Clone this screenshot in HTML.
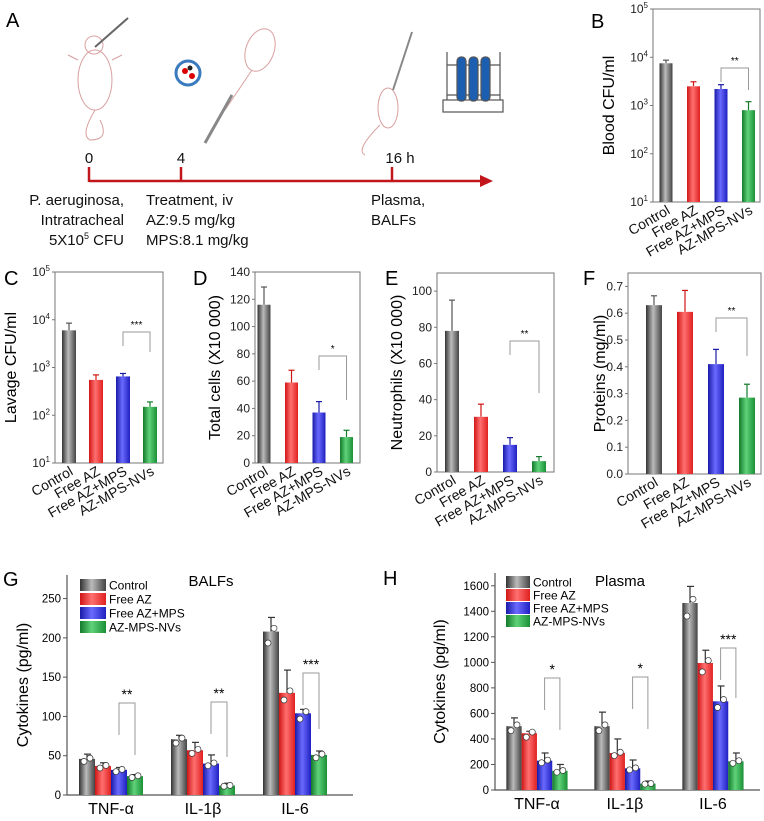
<!DOCTYPE html>
<html><head><meta charset="utf-8"><style>
body{margin:0;background:#fff}
svg{display:block;font-family:"Liberation Sans",sans-serif}
</style></head><body>
<svg id="fig" width="764" height="821" viewBox="0 0 764 821" xmlns="http://www.w3.org/2000/svg">
<defs>
<linearGradient id="g0" x1="0" x2="1"><stop offset="0" stop-color="#333"/><stop offset="0.45" stop-color="#bbb"/><stop offset="1" stop-color="#444"/></linearGradient>
<linearGradient id="g1" x1="0" x2="1"><stop offset="0" stop-color="#d01515"/><stop offset="0.45" stop-color="#ff7070"/><stop offset="1" stop-color="#e02020"/></linearGradient>
<linearGradient id="g2" x1="0" x2="1"><stop offset="0" stop-color="#1a1aa8"/><stop offset="0.45" stop-color="#6a6aff"/><stop offset="1" stop-color="#2020c0"/></linearGradient>
<linearGradient id="g3" x1="0" x2="1"><stop offset="0" stop-color="#137a2a"/><stop offset="0.45" stop-color="#5fd27a"/><stop offset="1" stop-color="#1a9035"/></linearGradient>
</defs>
<g>
<text x="6" y="27" font-size="20">A</text>
<g fill="none" stroke="#d9a0a0" stroke-width="1">
<ellipse cx="95" cy="80" rx="17" ry="30"/><circle cx="94" cy="45" r="9"/><path d="M95 110 Q80 135 90 140 Q110 140 100 120"/><path d="M78 60 L68 55 M112 60 L122 55"/>
</g>
<g stroke="#666" stroke-width="2"><line x1="95" y1="47" x2="128" y2="18"/></g>
<g><circle cx="188" cy="73" r="12" fill="none" stroke="#3a7abf" stroke-width="3"/><circle cx="185" cy="71" r="3" fill="#d00"/><circle cx="192" cy="76" r="3" fill="#d00"/><circle cx="190" cy="68" r="2.5" fill="#222"/></g>
<g fill="none" stroke="#d9a0a0" stroke-width="1"><ellipse cx="260" cy="50" rx="14" ry="22" transform="rotate(20 260 50)"/><line x1="252" y1="70" x2="225" y2="110"/></g>
<g stroke="#888" stroke-width="3"><line x1="205" y1="143" x2="232" y2="95"/></g>
<g fill="none" stroke="#d9a0a0" stroke-width="1"><ellipse cx="388" cy="108" rx="10" ry="20"/><path d="M380 125 Q355 150 365 155"/></g>
<g stroke="#888" stroke-width="2"><line x1="393" y1="90" x2="412" y2="32"/></g>
<g stroke="#555" fill="none" stroke-width="1.2">
<rect x="443" y="100" width="60" height="12"/><line x1="447" y1="52" x2="447" y2="100"/><line x1="500" y1="52" x2="500" y2="100"/><line x1="447" y1="65" x2="500" y2="65"/><line x1="447" y1="95" x2="500" y2="95"/>
<rect x="457" y="57" width="9" height="44" rx="4" fill="#1c5fb0"/><rect x="469" y="57" width="9" height="44" rx="4" fill="#1c5fb0"/><rect x="481" y="57" width="9" height="44" rx="4" fill="#1c5fb0"/>
</g>
<g stroke="#c0161c" stroke-width="2.5">
<line x1="89" y1="181" x2="482" y2="181"/><line x1="89" y1="167" x2="89" y2="182"/><line x1="181" y1="167" x2="181" y2="181"/><line x1="392" y1="167" x2="392" y2="181"/>
</g>
<polygon points="480,175 493,181 480,187" fill="#c0161c"/>
<g font-size="15" fill="#111">
<text x="89" y="163" text-anchor="middle">0</text>
<text x="181" y="163" text-anchor="middle">4</text>
<text x="400" y="163" text-anchor="middle">16 h</text>
<text x="124" y="205" text-anchor="end"><tspan x="124">P. aeruginosa,</tspan><tspan x="124" dy="20">Intratracheal</tspan><tspan x="124" dy="20">5X10<tspan font-size="9" dy="-6">5</tspan><tspan dy="6"> CFU</tspan></tspan></text>
<text x="146" y="205"><tspan x="146">Treatment, iv</tspan><tspan x="146" dy="20">AZ:9.5 mg/kg</tspan><tspan x="146" dy="20">MPS:8.1 mg/kg</tspan></text>
<text x="371" y="205"><tspan x="371">Plasma,</tspan><tspan x="371" dy="20">BALFs</tspan></text>
</g>
</g>
</svg>
<script>
const groups = ["Control","Free AZ","Free AZ+MPS","AZ-MPS-NVs"];
const bVals = [7500, 2500, 2200, 800];
const bErr = [1200, 600, 500, 400];
const cVals = [6000, 550, 650, 150];
const cErr = [2500, 150, 100, 40];
const dVals = [116, 59, 37, 19];
const dErr = [13, 9, 8, 5];
const eVals = [78, 30.5, 15, 6];
const eErr = [17, 7, 4, 2.5];
const fVals = [0.63, 0.605, 0.41, 0.285];
const fErr = [0.035, 0.08, 0.055, 0.05];
const cytoCats = ["TNF-α","IL-1β","IL-6"];
const gVals = [[46,71,208],[37,57,130],[32,40,104],[24,12,51]];
const gErr = [[6,5,18],[4,10,29],[3,11,5],[2,3,5]];
const gTicks = [0,50,100,150,200,250];
const hVals = [[500,500,1465],[445,290,995],[230,170,695],[150,50,225]];
const hErr = [[65,110,130],[15,110,100],[60,65,120],[50,20,65]];
const hTicks = [0,200,400,600,800,1000,1200,1400,1600];
const logTicks = [1,2,3,4,5];
const dTicks = [0,20,40,60,80,100,120,140];
const eTicks = [0,20,40,60,80,100];
const fTicks = [0,0.1,0.2,0.3,0.4,0.5,0.6,0.7];

const svg = document.getElementById('fig');
const NS = "http://www.w3.org/2000/svg";
function mk(tag, attrs, parent){ const e=document.createElementNS(NS,tag); for(const k in attrs) e.setAttribute(k,attrs[k]); (parent||svg).appendChild(e); return e; }
const barCol = ["#555","#d01515","#1a1aa8","#137a2a"];

function simplePanel(p, vals, errs, ticks, tickFmt){
  const g = mk('g',{});
  
  
  const y = v => p.log ? p.bottom - (Math.log10(v)-p.min)/(p.max-p.min)*(p.bottom-p.top) : p.bottom - (v-p.min)/(p.max-p.min)*(p.bottom-p.top);
  const fr = mk('rect',{x:p.left,y:p.top,width:p.right-p.left,height:p.bottom-p.top,fill:'none',stroke:'#777','stroke-width':1},g);
  
  
  ticks.forEach(t=>{
    const ty = p.log ? p.bottom - (t-p.min)/(p.max-p.min)*(p.bottom-p.top) : y(t);
    mk('line',{x1:p.left-3,x2:p.left,y1:ty,y2:ty,stroke:'#777'},g);
    const tx = mk('text',{x:p.left-5,y:ty+4,'font-size':12,'text-anchor':'end',fill:'#222'},g);
    
    
    if(p.log){ tx.textContent='10'; const s=mk('tspan',{dy:-5,'font-size':8},tx); s.textContent=t; }
    else tx.textContent = tickFmt(t);
  });
  vals.forEach((v,i)=>{
    const cx = p.c0 + i*p.step, yv=y(v);
    const ye = y(v+errs[i]);
    const el = mk('line',{x1:cx,x2:cx,y1:yv,y2:ye,stroke:barCol[i],'stroke-width':1.2},g);
    
    
    mk('line',{x1:cx-3,x2:cx+3,y1:ye,y2:ye,stroke:barCol[i],'stroke-width':1.2},g);
    const r = mk('rect',{x:cx-p.bw/2,y:yv,width:p.bw,height:p.bottom-yv,fill:'url(#g'+i+')'},g);
    
    
    const lb = mk('text',{x:cx+5,y:p.bottom+11,'font-size':14,'text-anchor':'end',transform:`rotate(-30 ${cx+5} ${p.bottom+11})`,fill:'#111'},g);
    lb.textContent = groups[i];
    
    
  });
  const x2=p.c0+2*p.step, x3=p.c0+3*p.step;
  mk('path',{d:`M${x2} ${p.sigY+14}V${p.sigY}H${x3}V${p.sigY+(p.sigDrop||55)}`,fill:'none',stroke:'#999'},g);
  const st = mk('text',{x:(x2+x3)/2,y:p.sigY-4,'font-size':10,'text-anchor':'middle'},g);
  st.textContent = p.sig;
  
  
  const yt = mk('text',{x:p.ytx,y:(p.top+p.bottom)/2,'font-size':16,'text-anchor':'middle',transform:`rotate(-90 ${p.ytx} ${(p.top+p.bottom)/2})`},g);
  yt.textContent = p.ytitle;
  
  
  const pl = mk('text',{x:p.lx,y:p.ly,'font-size':20},g);
  pl.textContent = p.letter;
  
  
}

simplePanel({name:'panel-b-blood-cfu',log:true,min:1,max:5,left:653,right:760,top:9,bottom:202,c0:666,step:27.5,bw:13,sig:'**',sigY:68,sigDrop:22,ytitle:'Blood CFU/ml',ytx:614,letter:'B',lx:591,ly:28},bVals,bErr,logTicks);
simplePanel({name:'panel-c-lavage-cfu',log:true,min:1,max:5,left:55,right:163,top:272,bottom:463,c0:69,step:27,bw:14,sig:'***',sigY:332,sigDrop:20,ytitle:'Lavage CFU/ml',ytx:16,letter:'C',lx:4,ly:285},cVals,cErr,logTicks);
simplePanel({name:'panel-d-total-cells',log:false,min:0,max:140,left:255,right:360,top:272,bottom:463,c0:264,step:27.5,bw:13,sig:'*',sigY:356,sigDrop:44,ytitle:'Total cells (X10 000)',ytx:220,letter:'D',lx:193,ly:285},dVals,dErr,dTicks,t=>t);
simplePanel({name:'panel-e-neutrophils',log:false,min:0,max:110,left:437,right:554,top:273,bottom:472,c0:452,step:29,bw:14,sig:'**',sigY:341,sigDrop:52,ytitle:'Neutrophils (X10 000)',ytx:402,letter:'E',lx:385,ly:285},eVals,eErr,eTicks,t=>t);
simplePanel({name:'panel-f-proteins',log:false,min:0,max:0.75,left:628,right:761,top:273,bottom:474,c0:654,step:31,bw:16,sig:'**',sigY:318,sigDrop:38,ytitle:'Proteins (mg/ml)',ytx:605,letter:'F',lx:583,ly:285},fVals,fErr,fTicks,t=>t.toFixed(1));

function cytoPanel(p, vals, errs, ticks){
  const g = mk('g',{});
  
  
  const y = v => p.bottom - v/p.max*(p.bottom-p.top);
  mk('path',{d:`M${p.left} ${p.top}V${p.bottom}H${p.right}`,fill:'none',stroke:'#555','stroke-width':1.2},g);
  ticks.forEach(t=>{
    mk('line',{x1:p.left-4,x2:p.left,y1:y(t),y2:y(t),stroke:'#555'},g);
    const tx=mk('text',{x:p.left-6,y:y(t)+4,'font-size':11.5,'text-anchor':'end'},g);
    tx.textContent=t;
    
    
  });
  cytoCats.forEach((c,ci)=>{
    const gc = p.g0 + ci*p.gstep;
    for(let s=0;s<4;s++){
      const cx = gc + s*p.bw, v=vals[s][ci], yv=y(v), ye=y(v+errs[s][ci]);
      mk('line',{x1:cx,x2:cx,y1:yv,y2:ye,stroke:'#333','stroke-width':1.2},g);
      mk('line',{x1:cx-3,x2:cx+4,y1:ye,y2:ye,stroke:'#333','stroke-width':1.2},g);
      const r=mk('rect',{x:cx-p.bw/2,y:yv,width:p.bw,height:p.bottom-yv,fill:'url(#g'+s+')'},g);
      
      
      mk('circle',{cx:cx-3,cy:y(v*0.93),r:3,fill:'#fff',stroke:'#333','stroke-width':0.7},g);
      mk('circle',{cx:cx+3,cy:y(v*1.02),r:3,fill:'#fff',stroke:'#333','stroke-width':0.7},g);
    }
    const xs = gc+2*p.bw, xe=gc+3*p.bw, top=p.sigY[ci];
    mk('path',{d:`M${xs} ${top+32}V${top}H${xe}V${top+p.drop[ci]}`,fill:'none',stroke:'#999'},g);
    const st=mk('text',{x:(xs+xe)/2,y:top-4,'font-size':14,'text-anchor':'middle'},g);
    st.textContent=p.sig[ci];
    
    
    const lb=mk('text',{x:gc+1.5*p.bw,y:p.bottom+19,'font-size':16,'text-anchor':'middle'},g);
    lb.textContent=c;
    
    
  });
  groups.forEach((n,i)=>{
    const yy=p.ly0+i*p.lstep;
    const r=mk('rect',{x:p.lx,y:yy-6,width:p.lw,height:12,fill:'url(#g'+i+')'},g);
    
    
    const t=mk('text',{x:p.lx+p.lw+3,y:yy+4.5,'font-size':12},g);
    t.textContent=n;
    
    
  });
  const tt=mk('text',{x:p.tx,y:p.ty,'font-size':15,'text-anchor':'middle'},g);
  tt.textContent=p.title;
  
  
  const yc=(p.top+p.bottom)/2;
  const yt=mk('text',{x:p.ytx,y:yc,'font-size':16,'text-anchor':'middle',transform:`rotate(-90 ${p.ytx} ${yc})`},g);
  yt.textContent='Cytokines (pg/ml)';
  
  
  const pl=mk('text',{x:p.plx,y:p.ply,'font-size':20},g);
  pl.textContent=p.letter;
  
  
}
cytoPanel({name:'panel-g-balf-cytokines',left:67,right:353,top:575,bottom:795,max:280,g0:87,gstep:92,bw:16,sigY:[703,702,673],drop:[52,55,56],sig:['**','**','***'],lx:80,lw:26,ly0:585,lstep:14,tx:211,ty:586,title:'BALFs',ytx:28,letter:'G',plx:3,ply:586},gVals,gErr,gTicks);
cytoPanel({name:'panel-h-plasma-cytokines',left:495,right:760,top:573,bottom:790,max:1700,g0:514,gstep:88,bw:15.3,sigY:[678,677,648],drop:[52,52,50],sig:['*','*','***'],lx:506,lw:24,ly0:582,lstep:13,tx:620,ty:586,title:'Plasma',ytx:445,letter:'H',plx:383,ply:585},hVals,hErr,hTicks);
</script>
</body></html>
